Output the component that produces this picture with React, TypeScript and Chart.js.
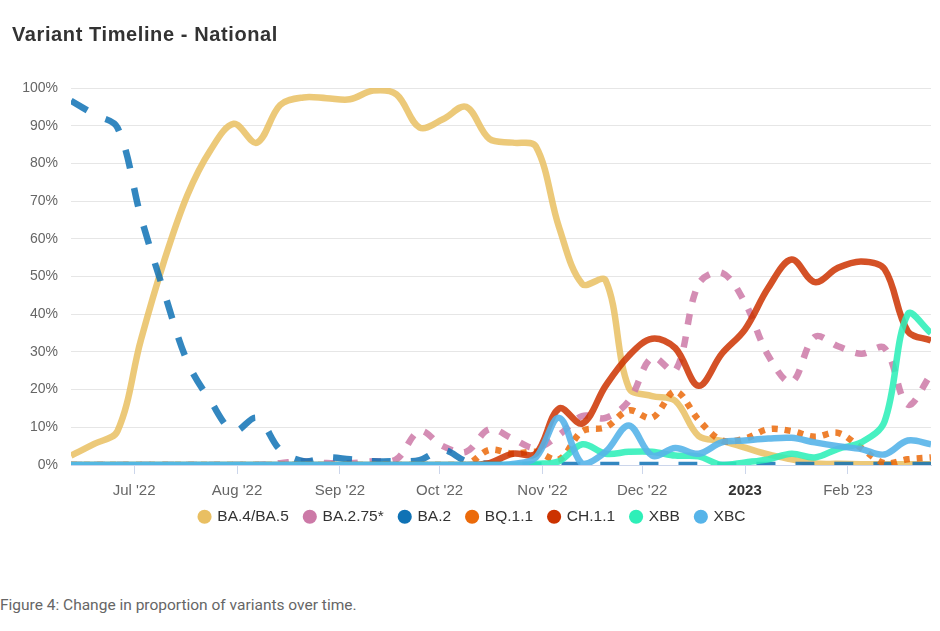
import React, { useEffect, useRef } from 'react';
import { Chart, registerables } from 'chart.js';

Chart.register(...registerables);

// Weekly sample dates (x positions come from these dates)
const weekDates = [
  '2022-06-12', '2022-06-19', '2022-06-26', '2022-07-03', '2022-07-10', '2022-07-17', '2022-07-24', '2022-07-31',
  '2022-08-07', '2022-08-14', '2022-08-21', '2022-08-28', '2022-09-04', '2022-09-11', '2022-09-18', '2022-09-25',
  '2022-10-02', '2022-10-09', '2022-10-16', '2022-10-23', '2022-10-30', '2022-11-06', '2022-11-13', '2022-11-20',
  '2022-11-27', '2022-12-04', '2022-12-11', '2022-12-18', '2022-12-25', '2023-01-01', '2023-01-08', '2023-01-15',
  '2023-01-22', '2023-01-29', '2023-02-05', '2023-02-12', '2023-02-19', '2023-02-26',
];

const seriesNames = ['BA.4/BA.5', 'BA.2.75*', 'BA.2', 'BQ.1.1', 'CH.1.1', 'XBB', 'XBC'];

const ba45 = [2.5, 5.6, 9, 33, 54, 71.5, 83.5, 90.5, 85.5, 95.5, 97.5, 97.3, 97, 99.3, 98.3, 89.5, 91.7, 95, 86.5, 85.5, 84.5, 63, 48, 49, 20.5, 18.3, 17, 7.7, 6.4, 4.6, 2.8, 1.5, 0.4, 0.3, 0.2, 0.2, 0.2, 0.2];
const ba275 = [0, 0, 0, 0, 0, 0, 0, 0, 0, 0.5, 1, 0.5, 0.5, 1, 1.5, 9, 5, 3.5, 9.5, 7, 4.5, 8, 13, 12.5, 17, 28.5, 25, 48, 51, 43, 29, 22, 34, 31.5, 29.5, 31, 16, 24];
const ba2 = [96.6, 93, 89.5, 66, 46, 27.5, 17, 9, 12.5, 4, 1, 2, 1.5, 1, 1, 1.3, 4, 1, 0.3, 0, 0, 0, 0, 0, 0, 0, 0, 0, 0, 0, 0, 0, 0, 0, 0, 0, 0, 0];
const bq11 = [0, 0, 0, 0, 0, 0, 0, 0, 0, 0, 0, 0, 0, 0, 0, 0, 0, 0, 4, 3, 3.5, 1.5, 9, 10, 14.5, 12.5, 19.5, 12, 6.5, 7, 9.5, 9, 7.5, 8.5, 4.5, 0.5, 1.5, 2];
const ch11 = [0, 0, 0, 0, 0, 0, 0, 0, 0, 0, 0, 0, 0, 0, 0, 0, 0, 0, 0.5, 3, 3, 15, 11, 21, 29, 33.5, 31, 21, 29.5, 36, 47, 54.5, 48.5, 52.3, 54, 52, 35.5, 33];
const xbb = [0, 0, 0, 0, 0, 0, 0, 0, 0, 0, 0, 0, 0, 0, 0, 0, 0, 0, 0, 0, 0.3, 1, 5.5, 3, 3.5, 3.5, 2.5, 2.3, 0, 0.7, 1.5, 3, 2, 4.3, 6, 11.5, 40, 35];
const xbc = [0, 0, 0, 0, 0, 0, 0, 0, 0, 0, 0, 0, 0, 0, 0, 0, 0, 0, 0, 0.3, 2, 12.5, 0.3, 3.5, 10.5, 2.5, 4.5, 3, 6, 6.5, 7, 7.2, 6, 5, 4.2, 2.8, 6.5, 5.5];

const tickDates = ['2022-07-01', '2022-08-01', '2022-09-01', '2022-10-01', '2022-11-01', '2022-12-01', '2023-01-01', '2023-02-01'];
const tickLabels = ["Jul '22", "Aug '22", "Sep '22", "Oct '22", "Nov '22", "Dec '22", '2023', "Feb '23"];
const yTicks = [0, 10, 20, 30, 40, 50, 60, 70, 80, 90, 100];

const legendColors = ['#E9BF62', '#CC79A7', '#0F72B5', '#EB6A0A', '#CC3300', '#2EEFB8', '#56B4E9'];
const lineColors = [
  'rgba(233,191,98,0.85)',
  'rgba(204,121,167,0.85)',
  'rgba(15,114,181,0.85)',
  'rgba(235,106,10,0.85)',
  'rgba(204,51,0,0.85)',
  'rgba(46,239,184,0.88)',
  'rgba(86,180,233,0.9)',
];
const dashes: number[][] = [[], [11, 12], [19, 20], [6, 7], [], [], []];
const allSeries = [ba45, ba275, ba2, bq11, ch11, xbb, xbc];

const DAY = 86400000;
const dayOf = (d: string) => (Date.parse(d) - Date.parse(weekDates[0])) / DAY;

const FONT = '"Liberation Sans", Arial, sans-serif';

// moves the legend box up/right after layout (keeps axis labels unclipped)
const legendShift = {
  id: 'legendShift',
  afterLayout(chart: any) {
    const lg = chart.legend;
    if (!lg) return;
    lg.top -= 12;
    lg.bottom -= 12;
    lg.left += 7;
    lg.right += 7;
  },
};

export default function App() {
  const canvasRef = useRef<HTMLCanvasElement | null>(null);

  useEffect(() => {
    if (!canvasRef.current) return;
    const n = allSeries.length;
    const datasets = allSeries.map((vals, i) => ({
      label: seriesNames[i],
      data: vals.map((v, k) => ({ x: dayOf(weekDates[k]), y: v })),
      borderColor: lineColors[i],
      backgroundColor: legendColors[i],
      borderWidth: 6.5,
      borderDash: dashes[i],
      borderCapStyle: 'butt' as const,
      borderJoinStyle: 'round' as const,
      pointRadius: 0,
      pointHoverRadius: 0,
      tension: 0.35,
      fill: false,
      order: n - i,
    }));

    const chart = new Chart(canvasRef.current, {
      type: 'line',
      data: { datasets },
      plugins: [legendShift],
      options: {
        animation: false,
        responsive: false,
        devicePixelRatio: 1,
        layout: { padding: { top: 88, right: 9, bottom: 13.5, left: 0 } },
        plugins: {
          title: { display: false },
          tooltip: { enabled: false },
          legend: {
            display: true,
            position: 'bottom',
            labels: {
              usePointStyle: true,
              boxWidth: 10,
              boxHeight: 10,
              padding: 16,
              color: '#333333',
              font: { family: FONT, size: 15.5 },
              generateLabels: (ch: any) =>
                ch.data.datasets.map((ds: any, i: number) => ({
                  text: ds.label,
                  fillStyle: legendColors[i],
                  strokeStyle: legendColors[i],
                  lineWidth: 0,
                  lineDash: [],
                  pointStyle: 'circle',
                  hidden: false,
                  datasetIndex: i,
                  fontColor: '#333333',
                })),
            },
          },
        },
        scales: {
          x: {
            type: 'linear',
            min: dayOf(weekDates[0]),
            max: dayOf(weekDates[weekDates.length - 1]),
            afterBuildTicks: (scale: any) => {
              scale.ticks = tickDates.map((d) => ({ value: dayOf(d) }));
            },
            afterFit: (scale: any) => {
              scale.height = 40;
            },
            grid: {
              display: true,
              drawOnChartArea: false,
              drawTicks: true,
              tickLength: 9,
              color: '#ccd6eb',
            },
            border: { display: true, color: '#ccd6eb' },
            ticks: {
              autoSkip: false,
              maxRotation: 0,
              padding: 8,
              callback: (_v: any, idx: number) => tickLabels[idx],
              color: (ctx: any) => (tickLabels[ctx.index] === '2023' ? '#333333' : '#666666'),
              font: (ctx: any) => ({
                family: FONT,
                size: 15,
                weight: tickLabels[ctx.index] === '2023' ? 'bold' : 'normal',
              }),
            },
          },
          y: {
            min: 0,
            max: 100,
            afterBuildTicks: (scale: any) => {
              scale.ticks = yTicks.map((v) => ({ value: v }));
            },
            afterFit: (scale: any) => {
              scale.width = 71;
            },
            grid: { color: '#e6e6e6', lineWidth: 1, drawTicks: false },
            border: { display: false },
            ticks: {
              padding: 13,
              color: '#666666',
              font: { family: FONT, size: 14 },
              callback: (v: any) => `${v}%`,
            },
          },
        },
      } as any,
    });
    return () => chart.destroy();
  }, []);

  return (
    <div style={{ position: 'absolute', left: 0, top: 0, width: 940, height: 631, background: '#fff', overflow: 'hidden' }}>
      <canvas ref={canvasRef} width={940} height={560} style={{ position: 'absolute', left: 0, top: 0, width: 940, height: 560 }} />
      <div
        style={{
          position: 'absolute',
          left: 12,
          top: 24,
          fontFamily: FONT,
          fontWeight: 'bold',
          fontSize: 20,
          lineHeight: '20px',
          letterSpacing: '0.6px',
          color: '#333333',
          whiteSpace: 'nowrap',
        }}
      >
        Variant Timeline - National
      </div>
      <div
        style={{
          position: 'absolute',
          left: 0,
          top: 596,
          fontFamily: 'Roboto, sans-serif',
          fontSize: 15.5,
          lineHeight: '18px',
          color: '#666666',
          whiteSpace: 'nowrap',
        }}
      >
        Figure 4: Change in proportion of variants over time.
      </div>
    </div>
  );
}
